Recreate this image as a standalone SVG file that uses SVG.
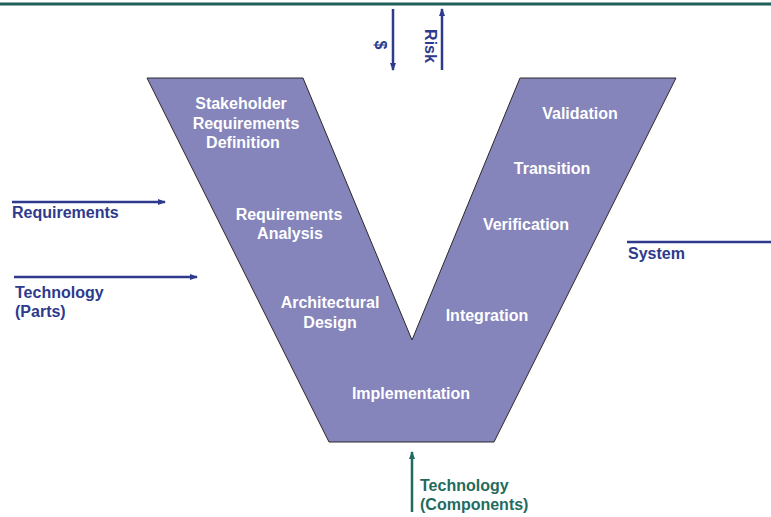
<svg xmlns="http://www.w3.org/2000/svg" width="771" height="517" viewBox="0 0 771 517">
<defs>
<style>
.v{fill:#8584bb;stroke:#2a2a2a;stroke-width:1}
.lbl{font-family:"Liberation Sans",Arial,sans-serif;font-weight:bold;font-size:16px;fill:#ffffff;text-anchor:middle}
.ext{font-family:"Liberation Sans",Arial,sans-serif;font-weight:bold;font-size:16px;fill:#2e3a8c}
.teal{font-family:"Liberation Sans",Arial,sans-serif;font-weight:bold;font-size:16px;fill:#1f6b60}
.blue{stroke:#2e3a8c;stroke-width:2.5;fill:none}
.dbl{fill:#8584bb}
</style>
<marker id="ab" markerWidth="8" markerHeight="6" refX="7" refY="3" orient="auto" markerUnits="userSpaceOnUse"><path d="M0,0 L8,3 L0,6 Z" fill="#2e3a8c"/></marker>
<marker id="at" markerWidth="8" markerHeight="6" refX="7" refY="3" orient="auto" markerUnits="userSpaceOnUse"><path d="M0,0 L8,3 L0,6 Z" fill="#1f6b60"/></marker>
</defs>
<rect width="771" height="517" fill="#ffffff"/>
<line x1="0" y1="4" x2="771" y2="4" stroke="#1f5f5a" stroke-width="3"/>
<g id="v-shape">
<path class="v" d="M147,78 L303,78 L412,340 L520,78 L676,78 L494,442 L329,442 Z"/>
</g>
<g id="connectors">
<line class="blue" x1="393" y1="9" x2="393" y2="70" marker-end="url(#ab)"/>
<line class="blue" x1="442" y1="70" x2="442" y2="9" marker-end="url(#ab)"/>
<polygon class="dbl" d="M333,118 L355,113 L355,116.5 L472,116.5 L472,113 L494,118 L472,123 L472,119.5 L355,119.5 L355,123 Z"/>
<polygon class="dbl" d="M373,224 L387,219.5 L387,222.5 L436,222.5 L436,219.5 L450,224 L436,228.5 L436,225.5 L387,225.5 L387,228.5 Z"/>
<line class="blue" x1="12" y1="202" x2="165" y2="202" marker-end="url(#ab)"/>
<line class="blue" x1="14" y1="277" x2="197" y2="277" marker-end="url(#ab)"/>
<line class="blue" x1="627" y1="242" x2="771" y2="242"/>
<line x1="412" y1="512" x2="412" y2="452" stroke="#1f6b60" stroke-width="2.5" marker-end="url(#at)"/>
</g>
<g id="labels-left">
<text class="lbl" x="241" y="109">Stakeholder</text>
<text class="lbl" x="246" y="129">Requirements</text>
<text class="lbl" x="243" y="148">Definition</text>
<text class="lbl" x="289" y="220">Requirements</text>
<text class="lbl" x="290" y="239">Analysis</text>
<text class="lbl" x="330" y="308">Architectural</text>
<text class="lbl" x="330" y="328">Design</text>
<text class="lbl" x="411" y="399">Implementation</text>
</g>
<g id="labels-right">
<text class="lbl" x="580" y="119">Validation</text>
<text class="lbl" x="552" y="174">Transition</text>
<text class="lbl" x="526" y="230">Verification</text>
<text class="lbl" x="487" y="321">Integration</text>
</g>
<g id="external">
<text class="ext" transform="translate(375,45) rotate(90)" text-anchor="middle">$</text>
<text class="ext" transform="translate(425,46) rotate(90)" text-anchor="middle">Risk</text>
<text class="ext" x="12" y="218">Requirements</text>
<text class="ext" x="15" y="298">Technology</text>
<text class="ext" x="15" y="317">(Parts)</text>
<text class="ext" x="628" y="259">System</text>
<text class="teal" x="420" y="491">Technology</text>
<text class="teal" x="420" y="510">(Components)</text>
</g>
</svg>
